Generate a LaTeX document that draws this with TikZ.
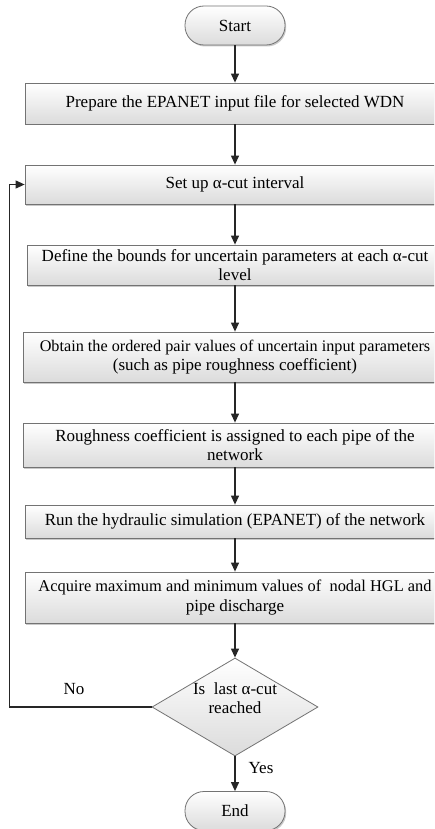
\documentclass[tikz,border=0pt]{standalone}
\usepackage{fontspec}
\setmainfont{Liberation Serif}
\usetikzlibrary{shapes.geometric,arrows.meta,shadows}
\begin{document}
\begin{tikzpicture}[x=1pt,y=-1pt,
  font=\fontsize{17}{19.5}\selectfont,
  box/.style={draw=black!55, line width=0.8pt, top color=white, bottom color=black!14,
    drop shadow={shadow xshift=1.2pt, shadow yshift=-1.5pt, fill=black!35, opacity=0.6},
    minimum width=420pt, inner sep=1pt, align=center},
  term/.style={draw=black!55, line width=0.8pt, top color=white, bottom color=black!14,
    rounded corners=19pt, minimum width=100pt, minimum height=39pt, inner sep=0pt,
    drop shadow={shadow xshift=1.2pt, shadow yshift=-1.5pt, fill=black!35, opacity=0.6}},
  dec/.style={diamond, draw=black!55, line width=0.8pt, top color=white, bottom color=black!14,
    minimum width=166pt, minimum height=98pt, inner sep=0pt, align=center},
  arr/.style={draw=black!85, line width=1.2pt, -{Triangle[length=9pt,width=8pt]}},
  lbl/.style={inner sep=0pt, align=center}
]
\useasboundingbox (0,0) rectangle (434,829);
\clip (0,0) rectangle (434,829);
\fill[white] (0,0) rectangle (434,829);

\node[term] (start) at (235,25.5) {Start};
\node[box, minimum height=41pt] (b1) at (235,103.5) {Prepare the EPANET input file for selected WDN};
\node[box, minimum height=39pt] (b2) at (235,184.5) {Set up α-cut interval};
\node[box, minimum height=40pt, minimum width=416pt] (b3) at (235,265) {Define the bounds for uncertain parameters at each α-cut\\level};
\node[box, minimum height=50pt, minimum width=424pt] (b4) at (235,357) {{\fontsize{16.2}{19.5}\selectfont Obtain the ordered pair values of uncertain input parameters}\\(such as pipe roughness coefficient)};
\node[box, minimum height=44pt, minimum width=424pt] (b5) at (235,445) {Roughness coefficient is assigned to each pipe of the\\network};
\node[box, minimum height=33pt] (b6) at (235,521.5) {Run the hydraulic simulation (EPANET) of the network};
\node[box, minimum height=51pt] (b7) at (235,597.5) {{\fontsize{16.4}{19.5}\selectfont Acquire maximum and minimum values of \ nodal HGL and}\\[1pt]pipe discharge};
\node[dec] (dia) at (235,707) {};
\node[lbl] (diatext) at (235,698) {Is \ last α-cut\\reached};
\node[term] (end) at (235,811) {End};

\coordinate (fb) at (9.5,707);

\draw[arr] (start) -- (b1);
\draw[arr] (b1) -- (b2);
\draw[arr] (b2) -- (b3);
\draw[arr] (b3) -- (b4);
\draw[arr] (b4) -- (b5);
\draw[arr] (b5) -- (b6);
\draw[arr] (b6) -- (b7);
\draw[arr] (b7) -- (dia);
\draw[arr] (dia) -- (end);
\draw[arr] (dia.west) -- (fb) |- (b2.west);

\node[lbl] (no) at (74,689) {No};
\node[lbl] (yes) at (261,768) {Yes};
\end{tikzpicture}
\end{document}
